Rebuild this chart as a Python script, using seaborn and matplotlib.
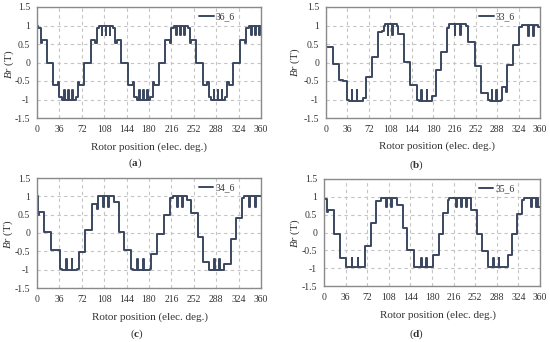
import numpy as np
import pandas as pd
import matplotlib
matplotlib.use("Agg")
import matplotlib.pyplot as plt
import seaborn as sns

# step waveforms: x where a level starts, and the level (T)
a_edges = [0, 2, 6, 8, 15.5, 26.5, 34, 36, 40, 62, 66, 68, 75.5, 86.5, 94, 96, 100, 122, 126, 128,
           135.5, 146.5, 154, 156, 160, 182, 186, 188, 195.5, 206.5, 214, 216, 220, 242, 246, 248,
           255.5, 266.5, 274, 276, 280, 302, 306, 308, 315.5, 326.5, 334, 336, 340]
a_levels = [1.0, 0.93, 0.52, 0.6, 0.0, -0.6, -0.52, -0.93, -1.0, -0.93, -0.52, -0.6, 0.0, 0.6, 0.52, 0.93, 1.0, 0.93, 0.52, 0.6,
            0.0, -0.6, -0.52, -0.93, -1.0, -0.93, -0.52, -0.6, 0.0, 0.6, 0.52, 0.93, 1.0, 0.93, 0.52, 0.6,
            0.0, -0.6, -0.52, -0.93, -1.0, -0.93, -0.52, -0.6, 0.0, 0.6, 0.52, 0.93, 1.0]
a_notch_x = [44.5, 51, 57.5, 104.5, 111, 117.5, 164.5, 171, 177.5, 224.5, 231, 237.5, 284.5, 291, 297.5, 344.5, 351, 357.5]
a_notch_y = [-0.73] * 3 + [0.73] * 3 + [-0.73] * 3 + [0.73] * 3 + [-0.73] * 3 + [0.73] * 3

b_edges = [0, 0.7, 12.5, 22.5, 29, 34.5, 39, 62, 67, 77, 88, 95, 97.5, 100, 119, 121.5, 130.5, 141.5, 152.5, 156,
           178, 185, 193, 203, 207, 235, 239.5, 250.5, 260, 272, 276, 294, 296, 302, 305, 315, 325, 330, 356]
b_levels = [1.0, 0.42, -0.03, -0.47, -0.5, -1.0, -1.05, -0.97, -0.38, 0.14, 0.82, 0.86, 1.0, 1.03, 1.0, 0.77, 0.02, -0.62, -1.0, -1.05,
            -0.9, -0.2, 0.28, 0.92, 1.05, 1.0, 0.55, -0.1, -0.83, -1.0, -1.03, -1.0, -0.65, -0.8, -0.08, 0.46, 0.97, 1.02, 0.95]
b_notch_x = [44, 52, 104, 112, 161, 170, 217, 226, 279, 287, 341, 349]
b_notch_y = [-0.75, -0.75, 0.75, 0.75, -0.75, -0.75, 0.75, 0.75, -0.75, -0.75, 0.72, 0.72]

c_edges = [0, 1, 2.5, 11.5, 22, 36.5, 40, 65, 67, 77, 88, 96.5, 98.5, 123, 131.5, 140, 151, 155, 181, 183,
           192.5, 204, 213.5, 218, 241, 247.5, 258.5, 266.5, 277, 300.5, 312.5, 320.5, 329.5, 333]
c_levels = [1.0, 0.5, 0.57, 0.03, -0.47, -0.97, -1.02, -0.97, -0.53, 0.08, 0.78, 0.65, 1.0, 0.85, 0.03, -0.45, -0.97, -1.02, -0.97, -0.58,
            -0.03, 0.48, 0.95, 1.02, 0.9, 0.55, -0.1, -0.8, -1.0, -0.85, -0.15, 0.42, 0.95, 1.0]
c_notch_x = [47.5, 56.5, 107, 114.5, 162, 171, 226, 234, 285.5, 293.5, 342, 351]
c_notch_y = [-0.72, -0.72, 0.7, 0.7, -0.72, -0.72, 0.7, 0.7, -0.72, -0.72, 0.7, 0.7]

d_edges = [0, 5.6, 7, 16.7, 26.7, 37.3, 67.5, 79, 87.4, 95.7, 122.4, 132, 139, 150, 182, 192, 198.7, 207, 209,
           245, 254.3, 263.8, 273.8, 307, 313.8, 321, 329.4, 334, 357]
d_levels = [0.95, 0.58, 0.63, -0.03, -0.72, -0.97, -0.37, 0.27, 0.87, 0.98, 0.78, 0.12, -0.5, -0.97, -0.62, -0.05, 0.55, 0.9, 0.98,
            0.62, -0.05, -0.52, -0.97, -0.62, -0.03, 0.52, 0.9, 0.97, 0.72]
d_notch_x = [46.7, 56.8, 104, 112.4, 162.5, 170.8, 221, 229, 237.6, 282, 291.6, 346, 354.5]
d_notch_y = [-0.72, -0.72, 0.72, 0.72, -0.72, -0.72, 0.72, 0.72, 0.72, -0.72, -0.72, 0.72, 0.72]

names = ["36_6", "33_6", "34_6", "35_6"]
letters = ["a", "b", "c", "d"]
x_ticks = list(range(0, 361, 36))
y_ticks = [-1.5, -1, -0.5, 0, 0.5, 1, 1.5]


def build(edges, levels, notch_x, notch_y, w=1.0):
    pts = list(zip(edges, levels))
    for nx, ny in zip(notch_x, notch_y):
        base = levels[np.searchsorted(edges, nx, side="right") - 1]
        pts += [(nx - w / 2, ny), (nx + w / 2, base)]
    pts.sort()
    pts.append((360, pts[-1][1]))
    return pd.DataFrame(pts, columns=["pos", "Br"])


sns.set_theme(style="white")
plt.rcParams["font.family"] = ["Liberation Serif", "DejaVu Serif"]
plt.rcParams["mathtext.fontset"] = "custom"
plt.rcParams["mathtext.it"] = "Liberation Serif:italic"
plt.rcParams["mathtext.bf"] = "Liberation Serif:bold"
plt.rcParams["mathtext.rm"] = "Liberation Serif"
plt.rcParams["axes.unicode_minus"] = False

W, H = 550, 342
fig = plt.figure(figsize=(5.5, 3.42), dpi=100)

# plot boxes in pixels: left, right, top, bottom
boxes = [(37, 261, 7, 118), (326, 540, 7, 118), (37, 261, 178, 288), (324, 540, 179, 286)]
xlab_pos = [(149, 147), (437, 146), (150, 317), (438, 315)]
ylab_pos = [(9.5, 64), (295, 62), (8.5, 234), (295, 233)]
let_pos = [(135, 163), (417, 165), (137, 334), (417, 334)]
data = [(a_edges, a_levels, a_notch_x, a_notch_y), (b_edges, b_levels, b_notch_x, b_notch_y),
        (c_edges, c_levels, c_notch_x, c_notch_y), (d_edges, d_levels, d_notch_x, d_notch_y)]

line_color = "#3a475f"
for i in range(4):
    l, r, t, b = boxes[i]
    ax = fig.add_axes([l / W, 1 - b / H, (r - l) / W, (b - t) / H])
    df = build(*data[i])
    sns.lineplot(data=df, x="pos", y="Br", ax=ax, drawstyle="steps-post", estimator=None, sort=False,
                 color=line_color, linewidth=1.4, label=names[i])
    ax.set_xlim(0, 360)
    ax.set_ylim(-1.5, 1.5)
    ax.set_xticks(x_ticks)
    ax.set_yticks(y_ticks)
    ax.set_yticklabels([f"{v:g}" for v in y_ticks])
    ax.grid(True, color="#c4c4c4", linestyle=(0, (3, 3)), linewidth=0.8)
    ax.tick_params(length=0, labelsize=7, labelcolor="#333333", pad=5)
    for s in ax.spines.values():
        s.set_color("#8a8a8a")
        s.set_linewidth(1.0)
    ax.set_xlabel("")
    ax.set_ylabel("")
    ax.legend(loc="upper right", bbox_to_anchor=(0.9, 0.99), frameon=False, fontsize=7,
              handlelength=1.5, handletextpad=0.2, borderaxespad=0.0, labelcolor="#333333")
    fig.text(xlab_pos[i][0] / W, 1 - xlab_pos[i][1] / H, "Rotor position (elec. deg.)",
             ha="center", va="center", fontsize=8, color="#333333")
    fig.text(ylab_pos[i][0] / W, 1 - ylab_pos[i][1] / H, r"$Br$ (T)", rotation=90,
             ha="center", va="center", fontsize=8, color="#333333")
    fig.text(let_pos[i][0] / W, 1 - let_pos[i][1] / H, "($\\mathbf{" + letters[i] + "}$)",
             ha="center", va="center", fontsize=8, color="#333333")

fig.savefig("out.png", dpi=100)
